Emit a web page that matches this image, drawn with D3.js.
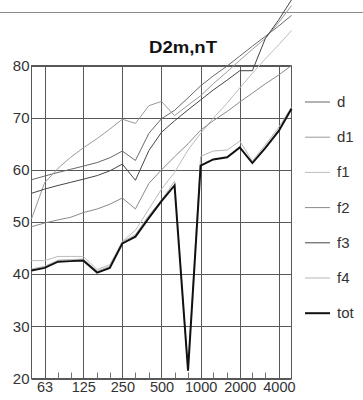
<!DOCTYPE html>
<html>
<head>
<meta charset="utf-8">
<script src="https://cdn.jsdelivr.net/npm/d3@7"></script>
<style>
  body { margin: 0; background: #fff; }
  svg { display: block; font-family: "Liberation Sans", Arial, sans-serif; }
</style>
</head>
<body>
<div id="chart"></div>
<script>
// third-octave bands, Hz
var freqs = [50, 63, 80, 100, 125, 160, 200, 250, 315, 400, 500, 630, 800, 1000, 1250, 1600, 2000, 2500, 3150, 4000, 5000];
var xTicks = [63, 125, 250, 500, 1000, 2000, 4000];
var yTicks = [20, 30, 40, 50, 60, 70, 80];

// D2m,nT per path, dB
var d   = [58.1, 58.8, 59.5, 60.1, 60.7, 61.4, 62.3, 63.6, 61.8, 67.0, 69.8, 71.4, 73.8, 76.1, 78.0, 79.9, 81.8, 83.7, 85.6, 87.6, 89.6];
var d1  = [50.6, 57.5, 60.3, 62.4, 64.2, 66.0, 67.8, 69.7, 68.9, 72.3, 73.1, 70.4, 72.4, 74.2, 76.5, 78.8, 81.0, 83.1, 85.2, 88.3, 91.5];
var f1  = [42.6, 42.6, 43.4, 43.4, 43.4, 40.9, 41.8, 46.3, 48.4, 52.5, 56.3, 59.5, 63.8, 67.0, 69.9, 72.8, 75.7, 78.5, 81.3, 84.0, 86.7];
var f2  = [49.1, 49.8, 50.4, 50.9, 51.8, 52.5, 53.4, 54.6, 52.5, 57.4, 60.0, 62.5, 65.0, 67.6, 69.4, 71.2, 73.0, 74.7, 76.5, 78.2, 80.0];
var f3  = [55.5, 56.3, 57.0, 57.6, 58.2, 58.9, 59.8, 61.1, 58.0, 63.7, 67.2, 69.4, 71.5, 73.4, 75.3, 77.2, 79.0, 79.0, 85.2, 88.8, 92.6];
var f4  = [41.0, 41.5, 42.7, 42.8, 42.9, 40.6, 41.5, 46.2, 47.6, 51.3, 54.2, 57.8, 21.6, 62.6, 63.6, 63.8, 65.5, 61.7, 64.8, 68.2, 72.0];
var tot = [40.7, 41.2, 42.4, 42.5, 42.6, 40.3, 41.2, 45.9, 47.2, 50.8, 54.0, 57.0, 21.5, 60.8, 62.0, 62.4, 64.3, 61.3, 64.2, 67.5, 71.7];

var series = [
  {name: "d",   values: d,   color: "#686868", width: 1},
  {name: "d1",  values: d1,  color: "#9a9a9a", width: 1},
  {name: "f1",  values: f1,  color: "#bcbcbc", width: 1},
  {name: "f2",  values: f2,  color: "#8a8a8a", width: 1},
  {name: "f3",  values: f3,  color: "#454545", width: 1},
  {name: "f4",  values: f4,  color: "#b6b6b6", width: 1},
  {name: "tot", values: tot, color: "#111111", width: 2}
];

var W = 363, H = 400;
var svg = d3.select("#chart").append("svg")
    .attr("width", W)
    .attr("height", H);

// header rule across the page
svg.append("line")
    .attr("x1", 0).attr("x2", W)
    .attr("y1", 12.5).attr("y2", 12.5)
    .attr("stroke", "#8a8a8a")
    .attr("stroke-width", 1);

var x = d3.scaleLog()
    .domain([50, 5000])
    .range([31.5, 291.5]);

var y = d3.scaleLinear()
    .domain([20, 80])
    .range([378.5, 65.5]);

// grid
var grid = svg.append("g").attr("stroke", "#585858").attr("stroke-width", 1);
grid.selectAll(".hg").data(yTicks).enter().append("line")
    .attr("x1", x(50)).attr("x2", x(5000))
    .attr("y1", function (v) { return Math.round(y(v)) + 0.5; })
    .attr("y2", function (v) { return Math.round(y(v)) + 0.5; });
grid.selectAll(".vg").data(xTicks).enter().append("line")
    .attr("x1", function (f) { return Math.round(x(f)) + 0.5; })
    .attr("x2", function (f) { return Math.round(x(f)) + 0.5; })
    .attr("y1", y(80)).attr("y2", y(20));

// frame
svg.append("rect")
    .attr("x", x(50)).attr("y", y(80))
    .attr("width", x(5000) - x(50))
    .attr("height", y(20) - y(80))
    .attr("fill", "none")
    .attr("stroke", "#585858");

// small third-octave ticks on the bottom edge
svg.append("g").selectAll("line")
    .data(freqs.filter(function (f) { return xTicks.indexOf(f) < 0 && f > 50 && f < 5000; }))
    .enter().append("line")
    .attr("x1", function (f) { return Math.round(x(f)) + 0.5; })
    .attr("x2", function (f) { return Math.round(x(f)) + 0.5; })
    .attr("y1", y(20)).attr("y2", y(20) - 6)
    .attr("stroke", "#707070");

// axes labels
var yAxis = svg.append("g")
    .attr("transform", "translate(" + (x(50) - 1) + ",0)")
    .call(d3.axisLeft(y).tickValues(yTicks).tickSize(0).tickPadding(1));
yAxis.select(".domain").remove();
yAxis.selectAll("text")
    .attr("font-size", 15)
    .attr("fill", "#333")
    .attr("font-family", "Liberation Sans, Arial, sans-serif");

var xAxis = svg.append("g")
    .attr("transform", "translate(0," + y(20) + ")")
    .call(d3.axisBottom(x).tickValues(xTicks).tickFormat(d3.format("d")).tickSize(0).tickPadding(3));
xAxis.select(".domain").remove();
xAxis.selectAll("text")
    .attr("font-size", 14.5)
    .attr("fill", "#333")
    .attr("font-family", "Liberation Sans, Arial, sans-serif");

// title
svg.append("text")
    .attr("x", 183).attr("y", 53)
    .attr("text-anchor", "middle")
    .attr("font-size", 16)
    .attr("font-weight", "bold")
    .attr("fill", "#111")
    .attr("textLength", 68)
    .attr("lengthAdjust", "spacingAndGlyphs")
    .text("D2m,nT");

// curves
var line = d3.line()
    .x(function (v, i) { return x(freqs[i]); })
    .y(function (v) { return y(v); });

svg.append("g").selectAll("path")
    .data(series)
    .enter().append("path")
    .attr("fill", "none")
    .attr("stroke", function (s) { return s.color; })
    .attr("stroke-width", function (s) { return s.width; })
    .attr("stroke-linejoin", "miter")
    .attr("d", function (s) { return line(s.values); });

// legend
var legend = svg.append("g").selectAll("g")
    .data(series)
    .enter().append("g")
    .attr("transform", function (s, i) { return "translate(305," + (102 + i * 35.2) + ")"; });
legend.append("line")
    .attr("x1", 0).attr("x2", 25)
    .attr("stroke", function (s) { return s.color; })
    .attr("stroke-width", function (s) { return s.width; });
legend.append("text")
    .attr("x", 32).attr("y", 5)
    .attr("font-size", 15)
    .attr("fill", "#333")
    .text(function (s) { return s.name; });
</script>
</body>
</html>
